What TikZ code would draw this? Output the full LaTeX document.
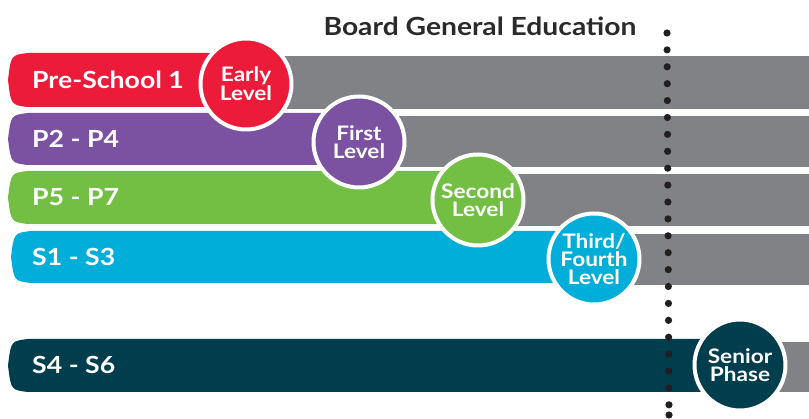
\documentclass[tikz,border=0pt]{standalone}
\usepackage{fontspec}
\setmainfont{Lato}[FakeStretch=1.13]
\definecolor{stagered}{HTML}{ED1B3A}
\definecolor{stagepurple}{HTML}{7B52A1}
\definecolor{stagegreen}{HTML}{72BF44}
\definecolor{stageblue}{HTML}{00AED9}
\definecolor{stageteal}{HTML}{003D4D}
\definecolor{trackgrey}{HTML}{808285}
\definecolor{headgrey}{HTML}{2A2A2A}
\definecolor{dotblack}{HTML}{231F20}
% bar with a rounded, slanted left end: left x, top y, bottom y, right x
\newcommand\capbar[4]{(#1+20,#2) -- (#4,#2) -- (#4,#3) -- (#1+20,#3)
  .. controls (#1+3,#3-2) .. (#1,{(#2+#3)/2}) .. controls (#1+3,#2+2) .. cycle}
\begin{document}
\begin{tikzpicture}[x=1pt,y=-1pt,
  track/.style={fill=trackgrey},
  barlabel/.style={text=white, font=\fontsize{23.6}{24}\selectfont\bfseries, inner sep=0pt, anchor=base west},
  levelcircle/.style={circle, draw=white, line width=4pt, minimum size=91pt, inner sep=0pt,
    text=white, align=center, font=\fontsize{20}{18}\selectfont\bfseries},
  heading/.style={text=headgrey, font=\fontsize{25}{25}\selectfont\bfseries}]
\useasboundingbox (0,0) rectangle (809,419);

% grey tracks running on to the right edge
\fill[track] (246,56) rectangle (809,109);
\fill[track] (359,116) rectangle (809,167);
\fill[track] (478,174) rectangle (809,226);
\fill[track] (594,234) rectangle (809,285);
\fill[track] (740,342) rectangle (809,392);

% coloured stage bars
\fill[stagered]    \capbar{8}{53}{107}{246};
\fill[stagepurple] \capbar{8}{113}{165}{359};
\fill[stagegreen]  \capbar{8}{171}{224}{478};
\fill[stageblue]   \capbar{11}{231}{283}{594};
\fill[stageteal]   \capbar{8}{339}{392}{740};

% stage labels
\node[barlabel] (ps)   at (32,88.5)  {Pre-School 1};
\node[barlabel] (p2)   at (32,147.5) {P2 - P4};
\node[barlabel] (p5)   at (32,206)   {P5 - P7};
\node[barlabel] (s1)   at (32,265.5) {S1 - S3};
\node[barlabel] (s4)   at (32,374)   {S4 - S6};

% curriculum levels
\node[levelcircle, fill=stagered]    (early)  at (246,84)  {Early\\Level};
\node[levelcircle, fill=stagepurple] (first)  at (359,142) {First\\Level};
\node[levelcircle, fill=stagegreen]  (second) at (478,200) {Second\\Level};
\node[levelcircle, fill=stageblue]   (third)  at (594,259) {Third/\\Fourth\\Level};
\node[levelcircle, fill=stageteal]   (senior) at (740,365) {Senior\\Phase};

% heading
\node[heading] (bge) at (480,26) {Board General Education};

% dotted divider
\foreach \i in {0,...,22}
  \fill[dotblack] ({667+0.09*\i},{33+16.9*\i}) circle (3.6pt);
\fill[dotblack] (669,415) circle (3.6pt);
\end{tikzpicture}
\end{document}
